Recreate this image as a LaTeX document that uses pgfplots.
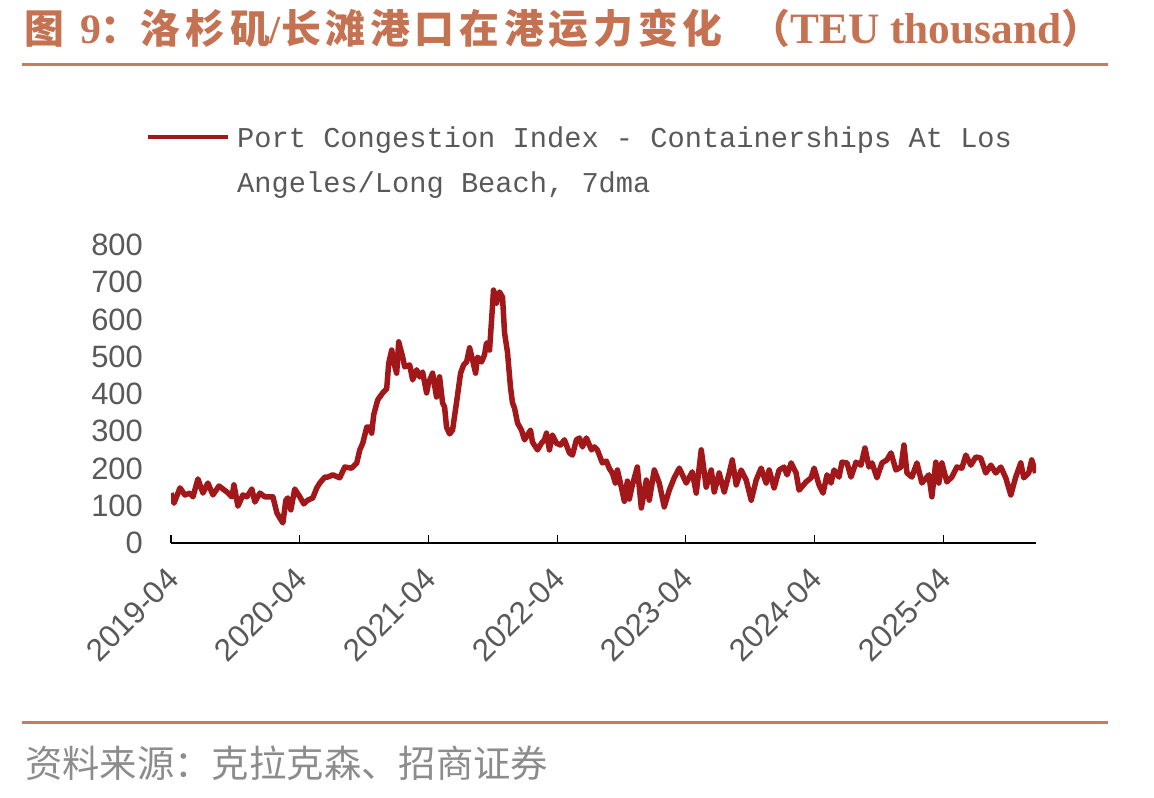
\documentclass[border=0pt]{standalone}
\usepackage{fontspec}
\usepackage{pgfplots}
\pgfplotsset{compat=1.18}
\setmainfont{Liberation Sans}
\newfontfamily\monofont{Liberation Mono}
\newfontfamily\tnrfont{Liberation Serif}
\newfontfamily\cjk{Noto Sans CJK SC}
\newfontfamily\cjkspaced{Noto Sans CJK SC}[LetterSpace=12]

\definecolor{titlecol}{RGB}{196,114,82}
\definecolor{rulecol}{RGB}{200,124,94}
\definecolor{linecol}{RGB}{162,24,26}
\definecolor{tickgray}{RGB}{89,89,89}
\definecolor{srcgray}{RGB}{140,140,140}

\pgfplotstableread{
m v
0.00 134
0.28 107
0.84 148
1.30 129
1.77 134
2.05 124
2.51 172
2.98 134
3.44 161
3.91 129
4.47 153
5.21 137
5.68 124
5.87 156
6.24 99
6.70 129
7.08 124
7.54 145
7.82 110
8.29 134
8.75 124
9.22 124
9.50 124
9.87 81
10.15 67
10.43 54
10.71 115
10.89 121
11.17 89
11.54 145
12.01 124
12.38 105
12.75 115
13.22 121
13.59 148
13.87 161
14.34 177
14.62 177
15.08 183
15.73 175
16.20 204
16.85 201
17.32 215
17.60 250
17.88 268
18.25 311
18.53 311
18.71 295
18.90 344
19.27 384
19.74 403
20.11 414
20.30 483
20.58 518
20.76 486
21.04 456
21.23 540
21.60 499
21.79 473
22.25 478
22.53 438
22.90 465
23.18 446
23.46 459
23.83 403
24.02 430
24.39 456
24.76 392
25.04 446
25.32 376
25.51 365
25.69 311
25.97 293
26.25 303
26.63 379
27.00 456
27.28 478
27.56 486
27.84 524
28.12 491
28.40 456
28.58 499
28.95 486
29.23 505
29.42 537
29.70 518
29.89 599
30.07 679
30.35 644
30.63 674
30.91 660
31.10 564
31.37 513
31.65 419
31.84 376
32.03 362
32.31 322
32.68 303
32.96 277
33.24 290
33.52 303
33.70 271
34.17 250
34.54 268
34.82 277
35.01 295
35.28 250
35.56 290
35.94 268
36.31 263
36.68 277
37.15 242
37.43 236
37.80 277
38.08 282
38.36 258
38.73 282
39.20 250
39.47 258
39.75 250
40.22 215
40.59 220
40.87 200
41.15 188
41.43 161
41.62 196
41.99 150
42.27 112
42.55 166
42.73 118
43.01 155
43.48 204
43.85 94
44.32 169
44.59 115
45.06 196
45.52 161
45.99 97
46.46 142
46.92 175
47.39 201
48.04 161
48.60 191
48.97 134
49.44 250
49.90 150
50.37 196
50.65 137
51.11 188
51.58 137
52.05 188
52.33 223
52.70 156
53.16 196
53.63 169
54.10 115
54.56 169
55.02 201
55.49 161
55.77 196
56.23 148
56.70 196
57.16 204
57.44 183
57.82 215
58.28 188
58.56 142
59.21 164
59.68 175
59.96 201
60.42 156
60.79 134
61.17 183
61.54 161
61.82 196
62.28 177
62.56 217
63.03 215
63.40 177
63.87 217
64.33 209
64.70 255
65.08 204
65.36 215
65.82 175
66.29 215
66.75 223
67.13 242
67.59 196
68.06 204
68.34 263
68.62 188
69.08 177
69.55 215
70.01 161
70.66 183
70.94 124
71.31 217
71.59 161
71.87 215
72.34 164
72.80 177
73.27 204
73.74 201
74.11 236
74.57 209
75.04 231
75.50 228
75.97 188
76.44 209
76.90 188
77.37 204
77.83 175
78.30 129
78.76 177
79.23 215
79.51 175
79.97 188
80.25 223
80.62 188
}\congestion

\begin{document}
\begin{tikzpicture}
\path[use as bounding box] (0,0) rectangle (1154bp,-798bp);

% title and rules
\node[anchor=base west, inner sep=0pt, text=titlecol, font=\fontsize{40}{46}\selectfont\bfseries]
  at (24bp,-43bp)
  {{\cjk 图}\hspace{16bp}{\tnrfont\fontsize{42}{46}\selectfont 9}{\cjk ：}{\cjkspaced 洛杉矶}{\tnrfont /}{\cjkspaced 长滩港口在港运力变化}\hspace{28bp}{\cjk （}{\tnrfont\fontsize{43.5}{46}\selectfont TEU thousand}{\cjk ）}};
\draw[rulecol, line width=3bp] (22bp,-64.5bp) -- (1108bp,-64.5bp);
\draw[rulecol, line width=3bp] (22bp,-722bp) -- (1108bp,-722bp);
\node[anchor=base west, inner sep=0pt, text=srcgray, font=\cjk\fontsize{37.5}{44}\selectfont]
  at (25bp,-777bp) {资料来源：克拉克森、招商证券};

\begin{axis}[
  at={(171bp,-543bp)}, anchor=south west,
  scale only axis, width=865bp, height=298bp,
  xmin=0, xmax=80.65, ymin=0, ymax=800,
  axis x line*=bottom, axis y line*=left,
  y axis line style={draw=none},
  x axis line style={line width=1.5bp, black, -},
  xtick={0,12,24,36,48,60,72},
  xticklabels={2019-04,2020-04,2021-04,2022-04,2023-04,2024-04,2025-04},
  ytick={0,100,...,800},
  tick align=inside,
  major tick length=8bp,
  xtick style={line width=1.2bp, black},
  ytick style={draw=none},
  tick label style={text=tickgray},
  xticklabel style={font=\fontsize{31.5}{36}\selectfont, yshift=-20bp, xshift=-6bp, rotate=45, anchor=north east, inner sep=2bp},
  yticklabel style={font=\fontsize{31}{36}\selectfont, anchor=east, inner sep=0pt, xshift=-28bp},
  /pgf/number format/assume math mode=true,
]
\addplot[linecol, line width=5.5bp, line join=round] table[x=m, y=v] {\congestion};
\end{axis}

% legend
\draw[linecol, line width=4.5bp] (148bp,-137bp) -- (228bp,-137bp);
\node[anchor=base west, inner sep=0pt, text=tickgray, font=\monofont\fontsize{28.8}{34}\selectfont]
  at (237bp,-147bp) {Port Congestion Index - Containerships At Los};
\node[anchor=base west, inner sep=0pt, text=tickgray, font=\monofont\fontsize{28.8}{34}\selectfont]
  at (237bp,-192bp) {Angeles/Long Beach, 7dma};
\end{tikzpicture}
\end{document}
